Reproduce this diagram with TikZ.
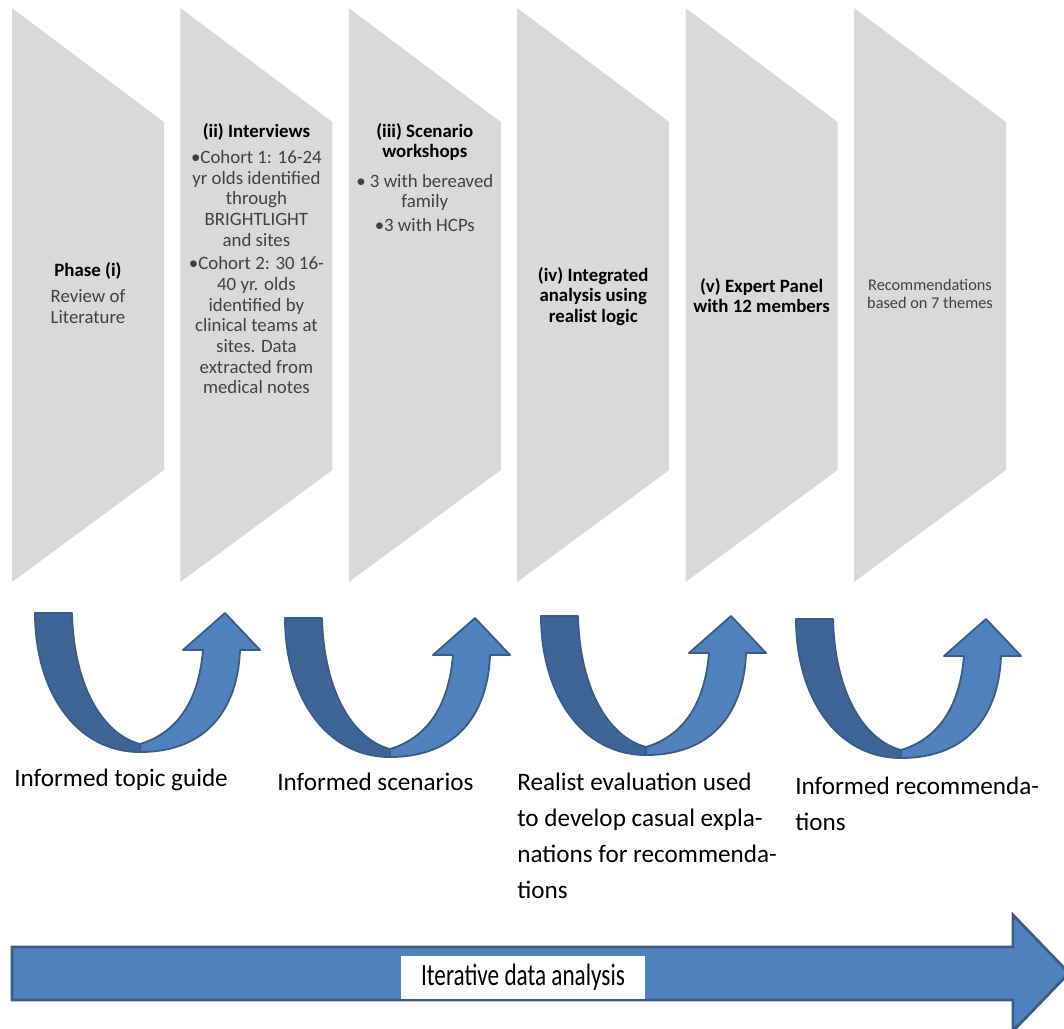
\documentclass[tikz,border=0pt]{standalone}
\usepackage{fontspec}
\setmainfont{Carlito}
\usepackage{graphicx}
\definecolor{panelgray}{HTML}{D9D9D9}
\definecolor{bandfront}{HTML}{4F81BD}
\definecolor{bandback}{HTML}{3F6596}
\definecolor{bandline}{HTML}{385D8A}
\definecolor{boxtext}{HTML}{404040}

\begin{document}
\begin{tikzpicture}[x=0.025cm, y=-0.025cm,
		phase/.style={fill=panelgray},
		phasetext/.style={anchor=north, align=center, inner sep=0pt, font=\fontsize{13.4}{14.7}\selectfont},
		turnback/.style={fill=bandback, draw=bandline, line width=1.3pt, line join=round},
		turnfront/.style={fill=bandfront, draw=bandline, line width=1.3pt, line join=round},
		outcome/.style={inner sep=0pt, align=left, font=\fontsize{17.9}{25.6}\selectfont}]
	\useasboundingbox (0,0) rectangle (1064,1028);
	\foreach \i in {0,...,5}
		\fill[phase] ({12+168.4*\i},8) -- ({164+168.4*\i},122) -- ({164+168.4*\i},470) -- ({12+168.4*\i},582) -- cycle;

	\node[phasetext] (P1)at(88, 262) {\textbf{Phase (i)}\\[4pt]\color{boxtext}Review of\\\color{boxtext}Literature};
	\node[phasetext] (P2)at(256.4, 123) {\textbf{(ii) Interviews}\\[4pt]
		\color{boxtext}\textbullet Cohort 1: 16-24\\\color{boxtext}yr olds identified\\\color{boxtext}through\\\color{boxtext}BRIGHTLIGHT\\\color{boxtext}and sites\\[2pt]
		\color{boxtext}\textbullet Cohort 2: 30 16-\\\color{boxtext}40 yr. olds\\\color{boxtext}identified by\\\color{boxtext}clinical teams at\\\color{boxtext}sites. Data\\\color{boxtext}extracted from\\\color{boxtext}medical notes};
	\node[phasetext] (P3)at(424.8, 123) {\textbf{(iii) Scenario}\\\textbf{workshops}\\[6pt]
		\color{boxtext}\textbullet\ 3 with bereaved\\\color{boxtext}family\\[2pt]\color{boxtext}\textbullet 3 with HCPs};
	\node[phasetext] (P4)at(593.2, 267) {\textbf{(iv) Integrated}\\\textbf{analysis using}\\\textbf{realist logic}};
	\node[phasetext] (P5)at(761.6, 278) {\textbf{(v) Expert Panel}\\\textbf{with 12 members}};
	\node[phasetext, text=boxtext, font=\fontsize{11.6}{12.8}\selectfont] (P6)at(930, 279) {Recommendations\\based on 7 themes};

	\foreach \dx/\dy in {0/0, 250/5, 506/3, 761/6} {
		\begin{scope}[shift={(\dx,\dy)}]
			\draw[turnback] (35,613) -- (72,613) .. controls (74,690) and (105,735) .. (140,744) -- (140,752) .. controls (75,752) and (35,690) .. (35,613) -- cycle;
			\draw[turnfront] (140,744) .. controls (170,735) and (198,710) .. (203,650) -- (183,650) -- (225,613) -- (260,650) -- (240,650) .. controls (238,705) and (210,752) .. (140,752) -- cycle;
		\end{scope}
	}

	\node[outcome, anchor=base west] (O1)at(14, 786) {Informed topic guide};
	\node[outcome, anchor=base west] (O2)at(277, 790) {Informed scenarios};
	\node[outcome, anchor=north west] (O3)at(517, 773) {Realist evaluation used\\to develop casual expla-\\nations for recommenda-\\tions};
	\node[outcome, anchor=north west] (O4)at(795, 777) {Informed recommenda-\\tions};

	\draw[fill=bandfront, draw=bandline, line width=2pt] (12,947) -- (1013,947) -- (1013,915) -- (1069,973) -- (1013,1031) -- (1013,1000) -- (12,1000) -- cycle;
	\node[fill=white, inner sep=0pt, minimum width=6.1cm, minimum height=1.075cm] (IDA)at(523, 977.5) {\scalebox{0.75}[1]{\fontsize{22}{22}\selectfont Iterative data analysis}};
\end{tikzpicture}
\end{document}
